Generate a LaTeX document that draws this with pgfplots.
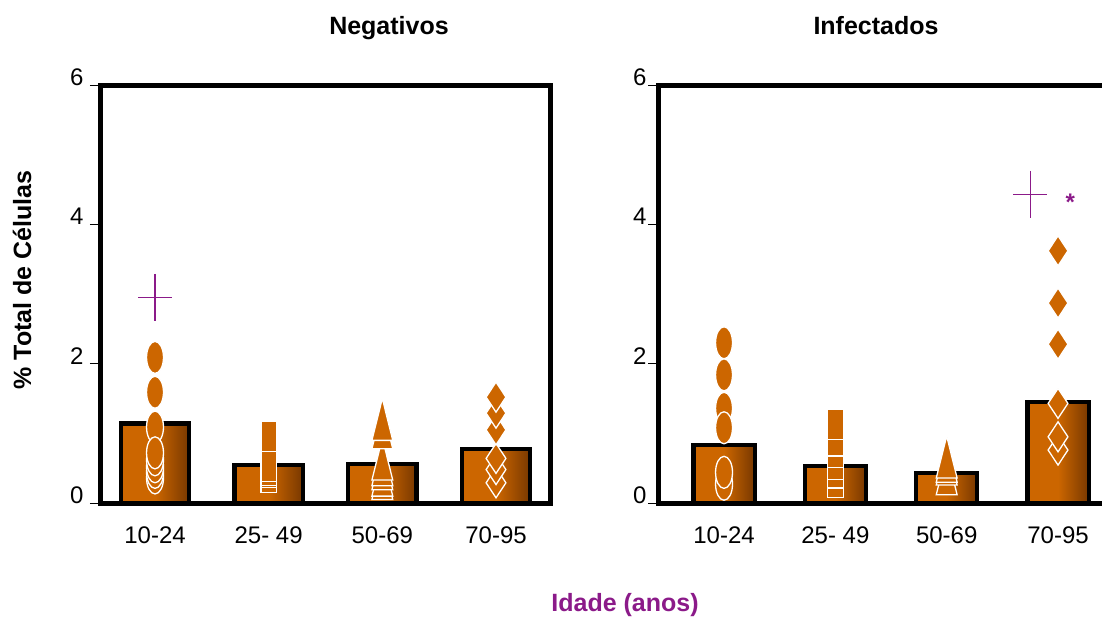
\documentclass[border=0pt]{standalone}
\usepackage{pgfplots}
\pgfplotsset{compat=1.18}
\usepackage{fontspec}
\setmainfont{Liberation Sans}
\definecolor{cOr}{HTML}{CC6600}
\definecolor{cBr}{HTML}{783800}
\definecolor{cPu}{HTML}{8B1A89}
\pgfplotsset{
  panel/.style={
    scale only axis, height=418pt, ymin=0, ymax=6, ytick={0,2,4,6},
    xtick={0,1,2,3}, xticklabels={10-24,25- 49,50-69,70-95},
    axis line style={line width=5pt, line cap=rect},
    tick align=outside, ytick pos=left, xtick pos=bottom,
    major tick length=10pt,
    ytick style={line width=0.7pt, black},
    xtick style={draw=none},
    /pgf/number format/assume math mode=true,
    ticklabel style={font=\fontsize{24}{28}\selectfont},
    xticklabel style={yshift=-10pt},
    clip=false,
  },
  bars/.style={ybar, draw=black, line width=4.2pt, left color=cOr, right color=cBr, middle color=cOr},
  circ/.style={only marks, mark=*, mark size=16pt, mark options={xscale=0.53}, draw=white, fill=cOr, line width=1.3pt},
  sqr/.style={only marks, mark=square*, mark size=15pt, mark options={xscale=0.52}, draw=white, fill=cOr, line width=1.3pt},
  tri/.style={only marks, mark=triangle*, mark size=28pt, mark options={xscale=0.43}, draw=white, fill=cOr, line width=1.3pt},
  dia/.style={only marks, mark=diamond*, mark size=15pt, mark options={xscale=0.88}, draw=white, fill=cOr, line width=1.3pt},
  pls/.style={only marks, mark=+, mark size=23.5pt, mark options={xscale=0.72}, draw=cPu, line width=1.3pt},
}
\begin{document}
\begin{tikzpicture}
\useasboundingbox (0pt,0pt) rectangle (1102pt,-619pt);
% Left panel
\begin{axis}[panel, at={(100pt,-503pt)}, anchor=south west, width=450pt,
  xmin=-0.484, xmax=3.475, yticklabel style={yshift=8pt, xshift=-3pt}]
\addplot[bars, bar width=0.6] coordinates {(0,1.14)};
\addplot[bars, bar width=0.6] coordinates {(1,0.54)};
\addplot[bars, bar width=0.6] coordinates {(2,0.56)};
\addplot[bars, bar width=0.6] coordinates {(3,0.77)};
\addplot[circ] coordinates {(0,2.09) (0,1.59) (0,1.09) (0,0.36) (0,0.44) (0,0.52) (0,0.62) (0,0.72)};
\addplot[sqr] coordinates {(1,0.37) (1,0.44) (1,0.47) (1,0.52) (1,0.95)};
\addplot[tri] coordinates {(2,0.25) (2,0.3) (2,0.39) (2,0.45) (2,0.53) (2,0.98) (2,1.1)};
\addplot[dia] coordinates {(3,0.29) (3,0.48) (3,0.64) (3,1.05) (3,1.29) (3,1.52)};
\addplot[pls] coordinates {(0,2.95)};
\end{axis}
% Right panel
\begin{axis}[panel, at={(658pt,-503pt)}, anchor=south west, width=446pt,
  xmin=-0.593, xmax=3.413, yticklabel style={yshift=8pt, xshift=2pt}]
\addplot[bars, bar width=0.55] coordinates {(0,0.83)};
\addplot[bars, bar width=0.55] coordinates {(1,0.53)};
\addplot[bars, bar width=0.55] coordinates {(2,0.43)};
\addplot[bars, bar width=0.55] coordinates {(3,1.45)};
\addplot[circ] coordinates {(0,2.3) (0,1.84) (0,1.36) (0,1.08) (0,0.27) (0,0.44)};
\addplot[sqr] coordinates {(1,0.29) (1,0.43) (1,0.55) (1,0.73) (1,0.89) (1,1.13)};
\addplot[tri] coordinates {(2,0.32) (2,0.46) (2,0.5) (2,0.56)};
\addplot[dia] coordinates {(3,0.76) (3,0.95) (3,1.43) (3,2.28) (3,2.87) (3,3.62)};
\addplot[pls] coordinates {(2.75,4.43)};
\node[text=cPu, font=\bfseries\fontsize{24}{24}\selectfont, yshift=-5pt] at (axis cs:3.11,4.39) {*};
\end{axis}
\node[anchor=base, font=\bfseries\fontsize{25}{28}\selectfont] at (389pt,-34pt) {Negativos};
\node[anchor=base, font=\bfseries\fontsize{25}{28}\selectfont] at (876pt,-34pt) {Infectados};
\node[rotate=90, font=\bfseries\fontsize{25}{28}\selectfont] at (22pt,-280pt) {\% Total de Células};
\node[text=cPu, font=\bfseries\fontsize{25}{28}\selectfont] at (625pt,-605pt) {Idade (anos)};
\end{tikzpicture}
\end{document}
